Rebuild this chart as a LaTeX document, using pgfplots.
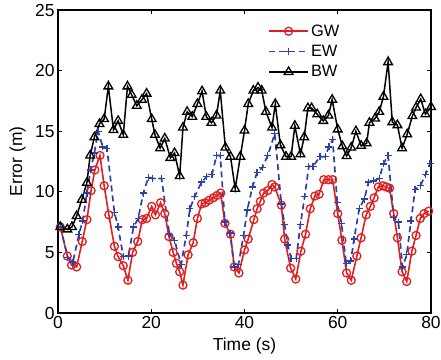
\documentclass[border=0pt]{standalone}
\usepackage{pgfplots}
\pgfplotsset{compat=1.18}
\usepackage{fontspec}
\setmainfont{Liberation Sans}
\definecolor{gwred}{RGB}{222,32,32}
\definecolor{ewblue}{RGB}{45,65,165}
\begin{document}
\begin{tikzpicture}
\useasboundingbox (-58bp,-47bp) rectangle (383bp,313bp);
\begin{axis}[
 at={(0,0)}, anchor=south west,
 scale only axis, width=373bp, height=303bp,
 xmin=0,xmax=80,ymin=0,ymax=25,
 xtick={0,20,40,60,80}, ytick={0,5,10,15,20,25},
 tick align=inside, major tick length=4bp,
 axis line style={line width=1.6bp},
 every tick/.style={black, line width=1bp},
 /pgf/number format/assume math mode=true,
 tick label style={font=\fontsize{17.5}{20}\selectfont},
 xlabel={Time (s)}, ylabel={Error (m)},
 xlabel style={font=\fontsize{17.5}{20}\selectfont, at={(axis description cs:0.5,-0.11)}, anchor=center},
 ylabel style={font=\fontsize{17.5}{20}\selectfont, at={(axis description cs:-0.1086,0.5)}, anchor=center, rotate=0},
 clip=false,
 legend cell align=left,
 legend style={draw=none, fill=none, at={(axis description cs:0.555,0.965)}, anchor=north west,
   font=\fontsize{16.5}{19}\selectfont, row sep=3.5bp},
 legend image code/.code={\draw[mark repeat=2,mark phase=2,#1] plot coordinates {(0cm,0cm) (0.69cm,0cm) (1.38cm,0cm)};},
]
\addplot[color=gwred, line width=1.6bp, mark=o, mark size=4bp, mark options={solid, line width=1.3bp}] coordinates {
(0.5,7.1)(2,4.7)(2.9,3.96)(4,3.8)(5.2,5.9)(6.2,7.7)(7.1,10.1)(7.9,11.8)(9,13.0)(9.9,10.5)(10.9,8.1)(12.1,5.5)(12.9,4.65)(14,3.9)(15,2.7)(16,5.0)(17.1,5.9)(18.1,7.7)(19,7.8)(20.1,8.8)(20.9,8.1)(22,9.1)(22.9,8.2)(23.8,6.3)(24.7,5.0)(25.4,4.1)(26.1,3.4)(26.8,2.3)(27.9,4.8)(29,5.8)(29.9,7.8)(30.8,9.0)(31.6,9.1)(32.4,9.3)(33.3,9.5)(34.1,9.7)(34.9,9.9)(35.8,7.4)(37,6.5)(37.8,3.8)(38.8,3.3)(40,5.2)(40.8,6.1)(42,7.7)(42.7,8.6)(43.4,9.2)(44.1,9.9)(45,10.1)(45.9,10.6)(46.5,10.4)(47.9,8.9)(48.6,6.1)(49.9,3.7)(51,2.8)(52.1,5.1)(53.1,6.5)(54.1,8.6)(55.1,9.65)(56,9.8)(57,11.0)(58,11.0)(58.9,11.0)(60,8.2)(60.9,6.0)(61.9,3.3)(62.9,2.7)(64.1,4.7)(65,6.2)(66.1,8.1)(67,8.8)(67.8,9.5)(68.7,10.4)(69.7,10.5)(70.4,10.4)(71.1,10.3)(72,8.2)(72.8,6.2)(73.8,3.4)(74.8,2.6)(75.9,5.1)(76.8,6.4)(77.7,7.8)(78.5,8.2)(79.5,8.4)
};
\addlegendentry{GW}
\addplot[color=ewblue, line width=1.7bp, dash pattern=on 6bp off 4bp, mark=+, mark size=3.5bp, mark options={solid, line width=1.3bp}] coordinates {
(0.5,7.1)(2.1,4.6)(3.2,4.2)(4.5,6.5)(5.3,7.6)(6.2,9.9)(7,11.8)(7.8,13.2)(8.6,15.0)(9.6,13.7)(10.5,13.6)(12.1,8.3)(12.9,7.1)(14,4.65)(15.1,4.7)(16.2,7.1)(17.2,7.8)(18.3,9.9)(19.4,11.2)(20.3,11.1)(22.2,11.1)(23.9,6.5)(25,6.0)(26.4,4.0)(27.5,6.4)(28.3,8.6)(29.3,9.6)(30.8,10.8)(31.9,11.25)(33,11.4)(34,13.0)(34.8,13.0)(35.8,7.5)(36.9,6.6)(37.8,3.8)(38.7,4.0)(39.8,6.4)(40.6,8.5)(41.7,10.4)(42.7,11.6)(43.8,12.0)(45,13.0)(46.5,14.8)(47.9,9.0)(48.6,7.3)(49.3,5.6)(50,4.5)(51.1,4.5)(52,7.3)(52.9,9.6)(53.8,12.1)(54.7,12.1)(56.2,12.9)(57.3,12.9)(58.1,13.7)(58.9,14.3)(59.9,9.1)(60.8,7.4)(61.8,4.1)(62.8,4.3)(63.5,6.1)(64.6,8.6)(65.7,9.4)(66.6,10.8)(67.7,10.9)(68.9,11.1)(69.8,12.3)(70.8,13.0)(72,7.9)(73,7.5)(73.9,3.8)(74.8,4.8)(75.7,7.6)(76.6,10.2)(77.7,10.5)(78.8,11.4)(79.8,12.35)
};
\addlegendentry{EW}
\addplot[color=black, line width=1.5bp, mark=triangle, mark size=5bp, mark options={solid, line width=1.3bp}] coordinates {
(0.5,7.1)(2,6.9)(3,7.1)(4,8.0)(5.1,9.35)(6.2,10.75)(6.9,13.0)(7.8,14.5)(8.9,15.6)(9.9,16.0)(10.8,18.7)(11.9,15.1)(12.9,15.85)(14,14.7)(14.9,18.7)(15.8,18.0)(16.9,17.1)(18,17.6)(19,18.1)(20.1,16.0)(20.8,14.7)(21.9,13.6)(22.9,14.4)(24.1,12.8)(25,13.2)(26.1,11.3)(26.8,15.3)(27.7,16.6)(28.8,16.2)(29.9,17.25)(30.9,18.3)(31.8,16.2)(32.9,15.7)(34,16.3)(34.8,18.35)(35.9,13.65)(37,12.9)(38,10.25)(39.1,12.9)(40,15.05)(40.8,17.25)(41.9,18.35)(42.9,18.6)(43.7,18.35)(44.6,16.6)(45.9,15.3)(46.6,17.25)(47.7,13.85)(48.9,12.9)(50,12.9)(50.8,15.45)(52,13.1)(52.8,14.5)(53.6,16.9)(54.4,16.9)(55.6,16.4)(56.9,15.85)(58,16.3)(58.8,17.6)(60,15.15)(61,13.75)(61.9,12.95)(62.9,13.65)(63.9,15.0)(65,13.8)(66.2,14.0)(66.8,15.7)(68,16.05)(68.9,16.6)(69.8,17.85)(70.8,20.7)(71.7,15.75)(72.8,15.5)(73.8,13.6)(74.9,14.75)(76,16.25)(76.8,16.95)(77.8,17.65)(78.8,16.4)(80,17.0)
};
\addlegendentry{BW}
\end{axis}
\end{tikzpicture}
\end{document}
